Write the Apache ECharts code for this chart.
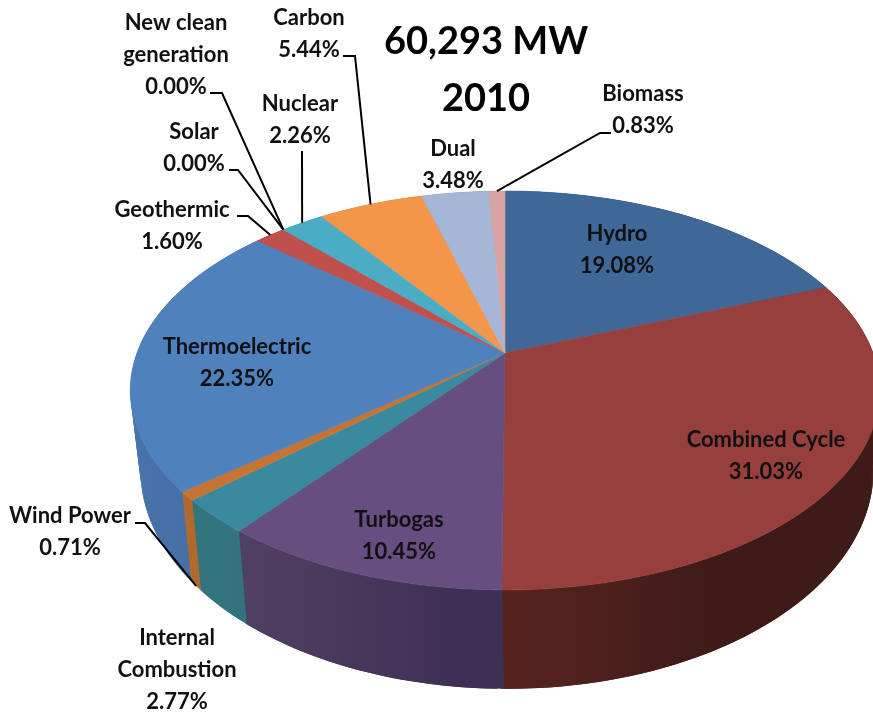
<!DOCTYPE html>
<html>
<head>
<meta charset="utf-8">
<style>html,body{margin:0;padding:0;background:#fff}#main{width:873px;height:714px}</style>
<script src="https://cdn.jsdelivr.net/npm/echarts@6/dist/echarts.min.js"></script>
</head>
<body>
<div id="main"></div>
<script>
// clockwise from 12 o'clock
var categories = ['Hydro', 'Combined Cycle', 'Turbogas', 'Internal\nCombustion', 'Wind Power', 'Thermoelectric',
    'Geothermic', 'Solar', 'New clean\ngeneration', 'Nuclear', 'Carbon', 'Dual', 'Biomass'];
var shares = [19.08, 31.03, 10.45, 2.77, 0.71, 22.35, 1.60, 0.00, 0.00, 2.26, 5.44, 3.48, 0.83];

var topColors = ['#3f6797', '#963f3d', '#674e80', '#398a9f', '#c67433', '#4f81bd', '#c0504d', '#4bacc6', '#4bacc6', '#4bacc6', '#f4964a', '#a6b6d6', '#d7a4a3'];
var wallLeft = ['#2f4d70', '#58231f', '#524064', '#33757f', '#b06a2e', '#4872a9', '#8e3b39', '#37808f', '#37808f', '#37808f', '#b56e35', '#7a879f', '#9f7978'];
var wallRight = ['#2a4363', '#3e1b19', '#3e2f54', '#2f6b7a', '#a9642d', '#3f6aa2', '#8e3b39', '#37808f', '#37808f', '#37808f', '#b56e35', '#7a879f', '#9f7978'];

// where each label block sits, and the elbow of its leader line if it has one
var labelLayout = {
    'Hydro': {x: 617, y: 250},
    'Combined Cycle': {x: 766, y: 456},
    'Turbogas': {x: 399, y: 536},
    'Internal\nCombustion': {x: 177, y: 670},
    'Wind Power': {x: 70, y: 532, line: [[135, 523], [145, 523]], bottom: true},
    'Thermoelectric': {x: 237, y: 363},
    'Geothermic': {x: 172, y: 226, line: [[237, 216], [248, 216]]},
    'Solar': {x: 194, y: 148, line: [[229, 170], [238, 170]]},
    'New clean\ngeneration': {x: 176, y: 55, line: [[210, 93], [222, 93]]},
    'Nuclear': {x: 300, y: 120, line: [[302, 151]]},
    'Carbon': {x: 309, y: 34, line: [[343, 56], [355, 56]]},
    'Dual': {x: 453, y: 165},
    'Biomass': {x: 643, y: 110, line: [[611, 133], [600, 133]]}
};

var FONT = 'Lato, "Open Sans", sans-serif';
var total = shares.reduce(function (a, b) { return a + b; }, 0);

// pie top and bottom planes, tilted with some perspective
var tilt = 0.188;
var topPlane = {cx: 505, cy: 353, rx: 368, ry: 192.4};
var bottomPlane = {cx: 507, cy: 429, rx: 360, ry: 211};
var shadeWidth = 220;

function rim(plane, share) {
    var t = share / total * Math.PI * 2;
    var u = Math.sin(t), v = -Math.cos(t), d = 1 - tilt * v;
    return [plane.cx + plane.rx * u / d, plane.cy + plane.ry * v / d];
}

function renderSlice(params, api) {
    var i = params.dataIndex;
    var value = api.value(0);
    var start = 0;
    for (var k = 0; k < i; k++) start += shares[k];
    var end = start + value;
    var mid = (start + end) / 2;
    var children = [];

    if (value > 0) {
        var steps = Math.max(2, Math.ceil(value * 4));
        var topPts = [], botPts = [], minX = Infinity;
        for (var s = 0; s <= steps; s++) {
            var at = start + value * s / steps;
            topPts.push(rim(topPlane, at));
            botPts.push(rim(bottomPlane, at));
            minX = Math.min(minX, topPts[s][0], botPts[s][0]);
        }
        var wallFill = {
            type: 'linear', global: true, x: minX, y: 0, x2: minX + shadeWidth, y2: 0,
            colorStops: [{offset: 0, color: wallLeft[i]}, {offset: 1, color: wallRight[i]}]
        };
        // wall goes in strips so the part round the outer edge gets filled too.
        // each strip runs under the next one, otherwise the seams show
        for (var q = 0; q < steps; q++) {
            var n = Math.min(q + 2, steps);
            var topEnd = q + 2 > steps ? rim(topPlane, end + 0.1) : topPts[n];
            var botEnd = q + 2 > steps ? rim(bottomPlane, end + 0.1) : botPts[n];
            children.push({
                type: 'polygon',
                z2: 1,
                shape: {points: [topPts[q], topEnd, botEnd, botPts[q]]},
                style: {fill: wallFill}
            });
        }
        children.push({
            type: 'polygon',
            z2: 2,
            shape: {points: [[topPlane.cx, topPlane.cy]].concat(topPts)},
            style: {fill: topColors[i], stroke: topColors[i], lineWidth: 0.6}
        });
    }

    var name = categories[i];
    var pos = labelLayout[name];
    children.push({
        type: 'text',
        z2: 5,
        style: {
            x: pos.x, y: pos.y,
            text: name + '\n' + value.toFixed(2) + '%',
            align: 'center', verticalAlign: 'middle',
            font: 'bold 22px ' + FONT, lineHeight: 32, fill: '#111'
        }
    });
    if (pos.line) {
        children.push({
            type: 'polyline',
            z2: 4,
            shape: {points: pos.line.concat([rim(pos.bottom ? bottomPlane : topPlane, mid)])},
            style: {fill: null, stroke: '#000', lineWidth: 2}
        });
    }
    return {type: 'group', children: children};
}

var chart = echarts.init(document.getElementById('main'));
chart.setOption({
    animation: false,
    backgroundColor: '#fff',
    title: {
        text: '60,293 MW\n2010',
        left: 481, top: 8,
        textAlign: 'center',
        textStyle: {fontFamily: FONT, fontWeight: 'bold', fontSize: 38, lineHeight: 57, color: '#000'}
    },
    series: [{
        type: 'custom',
        coordinateSystem: 'none',
        renderItem: renderSlice,
        data: shares.map(function (v, i) { return {name: categories[i], value: [v]}; })
    }]
});
</script>
</body>
</html>
